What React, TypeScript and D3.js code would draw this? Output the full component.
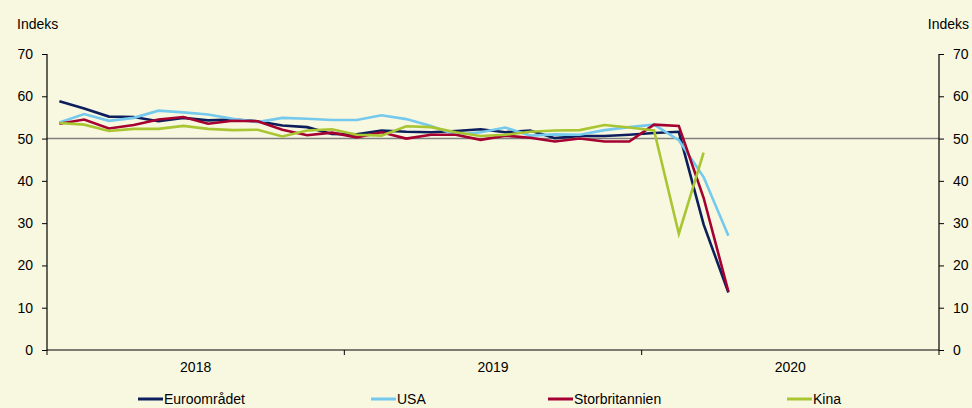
import * as React from "react";
import * as d3 from "d3";

// months of data (monthly composite PMI)
const months = [
  "2018-01", "2018-02", "2018-03", "2018-04", "2018-05", "2018-06",
  "2018-07", "2018-08", "2018-09", "2018-10", "2018-11", "2018-12",
  "2019-01", "2019-02", "2019-03", "2019-04", "2019-05", "2019-06",
  "2019-07", "2019-08", "2019-09", "2019-10", "2019-11", "2019-12",
  "2020-01", "2020-02", "2020-03", "2020-04",
];
const years = ["2018", "2019", "2020"];
const yTicks = [0, 10, 20, 30, 40, 50, 60, 70];

const euro = [58.8, 57.1, 55.2, 55.1, 54.1, 54.9, 54.3, 54.5, 54.1, 53.1, 52.7, 51.1,
  51.0, 51.9, 51.6, 51.5, 51.8, 52.2, 51.5, 51.9, 50.1, 50.6, 50.6, 50.9, 51.3, 51.6, 29.7, 13.6];
const usa = [53.8, 55.8, 54.2, 54.9, 56.6, 56.2, 55.7, 54.7, 53.9, 54.9, 54.7, 54.4,
  54.4, 55.5, 54.6, 53.0, 50.9, 51.5, 52.6, 50.7, 51.0, 50.9, 52.0, 52.7, 53.3, 49.6, 40.9, 27.0];
const uk = [53.5, 54.5, 52.4, 53.2, 54.5, 55.1, 53.5, 54.2, 54.1, 52.1, 50.8, 51.4,
  50.3, 51.5, 50.0, 50.9, 50.9, 49.7, 50.7, 50.2, 49.3, 50.0, 49.3, 49.3, 53.3, 53.0, 36.0, 13.8];
const kina = [53.7, 53.3, 51.8, 52.3, 52.3, 53.0, 52.3, 52.0, 52.1, 50.5, 51.9, 52.2,
  50.9, 50.7, 52.9, 52.7, 51.5, 50.6, 50.9, 51.6, 51.9, 52.0, 53.2, 52.6, 51.9, 27.5, 46.7];

const seriesNames = ["Euroområdet", "USA", "Storbritannien", "Kina"];
const seriesValues = [euro, usa, uk, kina];
const colors = ["#0c1f5c", "#74c9ec", "#a50030", "#a9c532"];
const legendX = [138, 371, 548, 787];

const W = 972, H = 408;
const margin = { top: 54, right: 33, bottom: 58, left: 47 };
const font = "'Liberation Sans', Arial, sans-serif";
const fs = 14;

export default function App() {
  const ref = React.useRef<SVGSVGElement>(null);

  React.useEffect(() => {
    const svg = d3.select(ref.current);
    svg.selectAll("*").remove();

    const x0 = margin.left, x1 = W - margin.right;
    const y0 = H - margin.bottom, y1 = margin.top;

    const allMonths = d3.timeMonth
      .range(new Date(2018, 0, 1), new Date(2021, 0, 1))
      .map(d3.timeFormat("%Y-%m"));
    const x = d3.scaleBand<string>().domain(allMonths).range([x0, x1]);
    const cx = (m: string) => (x(m) as number) + x.bandwidth() / 2;
    const y = d3.scaleLinear().domain([0, 70]).range([y0, y1]);

    svg.append("rect").attr("width", W).attr("height", H).attr("fill", "#f8f8e1");

    // 50 reference line
    svg.append("line")
      .attr("x1", x0).attr("x2", x1)
      .attr("y1", y(50)).attr("y2", y(50))
      .attr("stroke", "#808080").attr("stroke-width", 1.6);

    // left + right axes
    const left = svg.append("g").attr("transform", `translate(${x0},0)`)
      .call(d3.axisLeft(y).tickValues(yTicks).tickSize(5).tickPadding(9));
    const right = svg.append("g").attr("transform", `translate(${x1},0)`)
      .call(d3.axisRight(y).tickValues(yTicks).tickSize(5).tickPadding(9));
    [left, right].forEach((g) => {
      g.select(".domain").attr("stroke", "#000").attr("stroke-width", 1.2)
        .attr("d", `M0,${y1}V${y0}`);
      g.selectAll(".tick line").attr("stroke", "#000");
      g.selectAll(".tick text").attr("font-family", font).attr("font-size", fs).attr("fill", "#000");
    });

    // x axis with year boundaries
    const yearStarts = years.map((yr) => `${yr}-01`);
    const bounds = [...yearStarts.map((m) => x(m) as number), x1];
    svg.append("line").attr("x1", x0).attr("x2", x1).attr("y1", y0).attr("y2", y0)
      .attr("stroke", "#000").attr("stroke-width", 1.2);
    svg.selectAll(".ytick").data(bounds).join("line")
      .attr("x1", (d) => d).attr("x2", (d) => d)
      .attr("y1", y0).attr("y2", y0 + 5).attr("stroke", "#000");
    svg.selectAll(".ylab").data(years).join("text")
      .attr("x", (d, i) => (bounds[i] + bounds[i + 1]) / 2)
      .attr("y", y0 + 22)
      .attr("text-anchor", "middle")
      .attr("font-family", font).attr("font-size", fs)
      .text((d) => d);

    // axis titles
    svg.append("text").attr("x", 17).attr("y", 29).attr("font-family", font)
      .attr("font-size", fs).text("Indeks");
    svg.append("text").attr("x", 969).attr("y", 29).attr("text-anchor", "end")
      .attr("font-family", font).attr("font-size", fs).text("Indeks");

    // series
    const line = d3.line<number>()
      .x((d, i) => cx(months[i]))
      .y((d) => y(d));
    seriesValues.forEach((vals, i) => {
      svg.append("path").datum(vals)
        .attr("fill", "none")
        .attr("stroke", colors[i])
        .attr("stroke-width", 2.6)
        .attr("d", line);
    });

    // legend
    const lg = svg.selectAll(".lg").data(seriesNames).join("g")
      .attr("transform", (d, i) => `translate(${legendX[i]},399)`);
    lg.append("line").attr("x1", 0).attr("x2", 25).attr("y1", 0).attr("y2", 0)
      .attr("stroke", (d, i) => colors[i]).attr("stroke-width", 3);
    lg.append("text").attr("x", 26).attr("y", 5)
      .attr("font-family", font).attr("font-size", fs)
      .text((d) => d);
  }, []);

  return (
    <div style={{ position: "absolute", left: 0, top: 0 }}>
      <svg ref={ref} width={W} height={H} style={{ display: "block" }} />
    </div>
  );
}
